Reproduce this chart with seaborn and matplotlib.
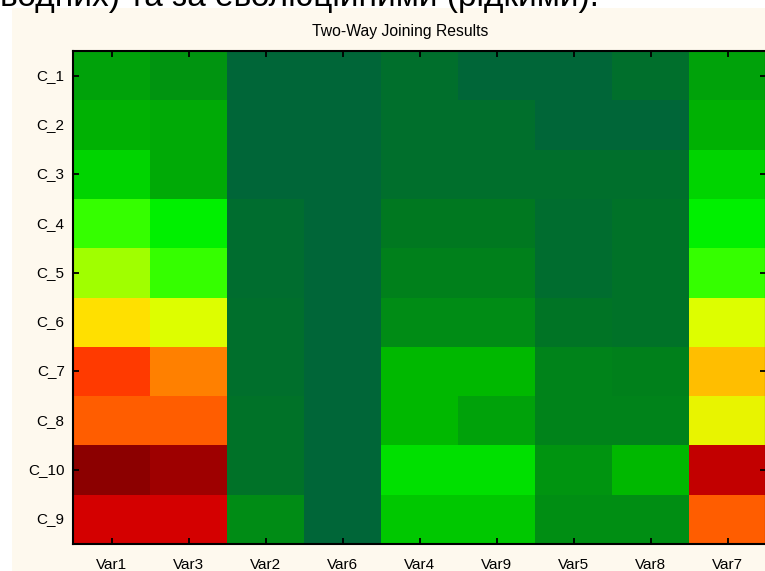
import numpy as np
import pandas as pd
import matplotlib
matplotlib.use("Agg")
import matplotlib.pyplot as plt
import seaborn as sns
from matplotlib.colors import LinearSegmentedColormap
from matplotlib.patches import Rectangle

rows = ["C_1", "C_2", "C_3", "C_4", "C_5", "C_6", "C_7", "C_8", "C_10", "C_9"]
cols = ["Var1", "Var3", "Var2", "Var6", "Var4", "Var9", "Var5", "Var8", "Var7"]

# joined cell values, one list per cluster row (order as in cols)
c_1 = [24, 20, 0, 0, 5, 0, 0, 5, 24]
c_2 = [28, 26, 0, 0, 5, 5, 0, 0, 28]
c_3 = [37, 26, 0, 0, 5, 5, 5, 5, 37]
c_4 = [50, 45, 4, 0, 10, 10, 4, 7, 45]
c_5 = [55, 50, 4, 0, 13, 13, 4, 7, 50]
c_6 = [63, 60, 5, 0, 17, 17, 8, 7, 60]
c_7 = [82, 72, 5, 0, 30, 30, 14, 13, 67]
c_8 = [77, 77, 7, 0, 30, 24, 14, 14, 61]
c_10 = [100, 97, 7, 0, 40, 40, 20, 30, 91]
c_9 = [88, 88, 17, 0, 34, 34, 18, 18, 77]

# statistica-like green -> yellow -> red scale
stops = [0, 10, 20, 30, 40, 45, 50, 55, 60, 63, 67, 72, 77, 82, 88, 94, 100]
stop_colors = ["#006638", "#007820", "#009410", "#00B800", "#00E000", "#00F000",
               "#33FF00", "#A0FF00", "#DCFF00", "#FFE000", "#FFC000", "#FF8000",
               "#FF5E00", "#FF3A00", "#D40000", "#B00000", "#8C0000"]
cmap = LinearSegmentedColormap.from_list(
    "stat", [(s / 100, c) for s, c in zip(stops, stop_colors)], N=512)

df = pd.DataFrame([c_1, c_2, c_3, c_4, c_5, c_6, c_7, c_8, c_10, c_9], index=rows, columns=cols)

plt.rcParams["font.family"] = ["Liberation Sans", "DejaVu Sans"]
W, H = 765, 571
fig = plt.figure(figsize=(W / 100, H / 100), dpi=100, facecolor="white")

# cream panel behind the chart
fig.patches.append(Rectangle((12 / W, 0), 1, (H - 8) / H, transform=fig.transFigure,
                             facecolor="#FEF9EE", edgecolor="none", zorder=-10))
# clipped caption line from the surrounding document (cut at the top, as in the source)
fig.text(0.0, 1 - 6 / H, "водних) та за еволюційними (рідкими).", fontsize=24,
         ha="left", va="baseline", color="black")

ax = fig.add_axes([73 / W, (H - 544) / H, (766 - 73) / W, (544 - 51) / H])
sns.heatmap(df, ax=ax, cmap=cmap, vmin=0, vmax=100, cbar=False,
            xticklabels=True, yticklabels=True)
ax.set_xlabel("")
ax.set_ylabel("")
ax.set_title("Two-Way Joining Results", fontsize=11.3, pad=11, x=(400 - 73) / (766 - 73))

for sp in ax.spines.values():
    sp.set_visible(True)
    sp.set_linewidth(1.5)
    sp.set_color("black")

ax.tick_params(axis="both", direction="in", length=4, width=1.3, labelsize=11,
               top=True, right=True, bottom=True, left=True, colors="black")
ax.tick_params(axis="x", pad=10, rotation=0)
ax.tick_params(axis="y", pad=6, rotation=0)
for i, t in enumerate(ax.yaxis.get_major_ticks()):
    if i % 2:
        t.tick1line.set_visible(False)
        t.tick2line.set_visible(False)

fig.savefig("out.png", dpi=100, facecolor=fig.get_facecolor())
